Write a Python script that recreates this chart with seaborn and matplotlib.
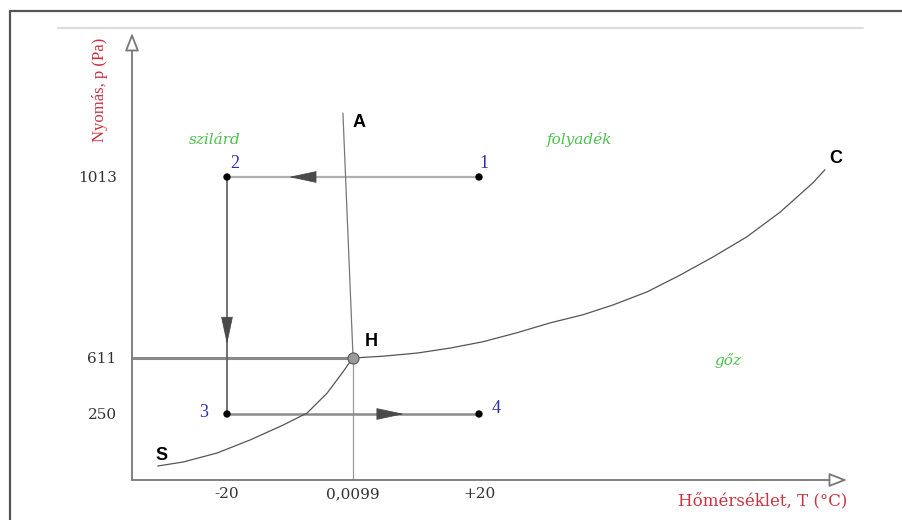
import numpy as np
import pandas as pd
import matplotlib
matplotlib.use("Agg")
import matplotlib.pyplot as plt
from matplotlib.lines import Line2D
import seaborn as sns

# -------------------------------- DATA --------------------------------

# sublimation curve S -> H  (T in °C, p in Pa)
subl_T = [-31.0, -27.0, -21.6, -16.3, -11.1, -7.3, -4.1, -1.6, -0.5, 0.0099]
subl_p = [53, 68, 102, 152, 208, 256, 385, 521, 585, 611]

# vapour pressure curve H -> C
boil_T = [0.0099, 4.8, 10.2, 15.4, 20.6, 26.0, 31.3, 36.5, 41.3, 46.7,
          51.9, 57.1, 62.5, 67.8, 73.0, 74.9]
boil_p = [611, 615, 622, 633, 647, 667, 689, 707, 729, 758,
          795, 835, 880, 935, 1000, 1029]

# melting line H -> A
melt_T = [0.0099, -1.6]
melt_p = [611, 1155]

# process 1 -> 2 -> 3 -> 4
path_labels = ["1", "2", "3", "4"]
path_T = [20, -20, -20, 20]
path_p = [1013, 1013, 250, 250]

# triple point
triple_T = 0.0099
triple_p = 611

x_ticks = [-20, 0.0099, 20]
x_ticklabels = ["-20", "0,0099", "+20"]
y_ticks = [250, 611, 1013]
y_ticklabels = ["250", "611", "1013"]

# schematic (non linear) pressure axis: pressure -> height
p_anchor = [0, 250, 611, 1013, 2000]
h_anchor = [0, 66, 122, 303, 303 + 987 / 2.221]

# ------------------------------ FIGURE --------------------------------

sns.set_theme(style="white")
plt.rcParams["font.family"] = ["Liberation Serif", "DejaVu Serif"]

W, H = 903, 520
fig = plt.figure(figsize=(W / 100, H / 100), dpi=100)
ax = fig.add_axes([132 / W, 40 / H, 715 / W, 447 / H])
ax.set_facecolor("white")

ax.set_yscale("function", functions=(lambda p: np.interp(p, p_anchor, h_anchor),
                                     lambda h: np.interp(h, h_anchor, p_anchor)))
ax.set_xlim(-35.08, 78.41)
ax.set_ylim(0, 1332.8)
for s in ax.spines.values():
    s.set_visible(False)

serif = ["Liberation Serif", "DejaVu Serif"]
wide = ["DejaVu Serif"]
sans = ["Liberation Sans", "DejaVu Sans"]

# helper lines: 611 Pa level and T of triple point
ax.plot([ax.get_xlim()[0], triple_T], [triple_p, triple_p], color="#8a8a8a", lw=2.2, zorder=2)
ax.plot([triple_T, triple_T], [0, triple_p], color="#9a9a9a", lw=0.9, zorder=2)

# process path
seg_style = [("#b0b0b0", 1.6), ("#666666", 1.3), ("#8a8a8a", 1.8)]
for i, (c, lw) in enumerate(seg_style):
    ax.plot(path_T[i:i + 2], path_p[i:i + 2], color=c, lw=lw, zorder=3)

# phase boundaries
curves = pd.concat([
    pd.DataFrame({"T": subl_T, "p": subl_p, "curve": "subl"}),
    pd.DataFrame({"T": boil_T, "p": boil_p, "curve": "boil"}),
    pd.DataFrame({"T": melt_T, "p": melt_p, "curve": "melt"}),
])
sns.lineplot(data=curves, x="T", y="p", hue="curve", sort=False, estimator=None,
             palette={"subl": "#555555", "boil": "#555555", "melt": "#777777"},
             lw=0.9, legend=False, ax=ax, zorder=4)

# points
pts = pd.DataFrame({"T": path_T, "p": path_p, "label": path_labels})
sns.scatterplot(data=pts, x="T", y="p", color="black", s=28, edgecolor="none", ax=ax, zorder=6)
ax.plot(triple_T, triple_p, marker="o", ms=8, mfc="#9a9a9a", mec="#555555", mew=0.8, zorder=6)

# point numbers
num_off = [(5, 13), (8, 13), (-23, 1), (17, 5)]
for (t, p, lab), off in zip(zip(path_T, path_p, path_labels), num_off):
    ax.annotate(lab, (t, p), xytext=off, textcoords="offset pixels", ha="center", va="center",
                color="#2f2fa6", fontsize=13, family=serif, zorder=7)

# curve end letters
ax.annotate("S", (subl_T[0], subl_p[0]), xytext=(4, 11), textcoords="offset pixels",
            ha="center", va="center", fontsize=13, fontweight="bold", family=sans, color="black")
ax.annotate("H", (triple_T, triple_p), xytext=(18, 16), textcoords="offset pixels",
            ha="center", va="center", fontsize=13, fontweight="bold", family=sans, color="black")
ax.annotate("A", (melt_T[-1], melt_p[-1]), xytext=(16, -9), textcoords="offset pixels",
            ha="center", va="center", fontsize=13, fontweight="bold", family=sans, color="black")
ax.annotate("C", (boil_T[-1], boil_p[-1]), xytext=(11, 11), textcoords="offset pixels",
            ha="center", va="center", fontsize=13, fontweight="bold", family=sans, color="black")

# region names
green = "#4fc04f"
ax.text(-21.9, 1095, "szilárd", color=green, style="italic", fontsize=11, family=wide,
        ha="center", va="center")
ax.text(36.0, 1097, "folyadék", color=green, style="italic", fontsize=11, family=wide,
        ha="center", va="center")
ax.text(59.5, 598, "gőz", color=green, style="italic", fontsize=11, family=wide,
        ha="center", va="center")

# direction arrows on the path
def arrow_on(a, b, frac, head_px=21):
    pa = ax.transData.transform(a)
    pb = ax.transData.transform(b)
    tip = pa + (pb - pa) * frac
    d = (pb - pa) / np.hypot(*(pb - pa))
    tail = tip - d * head_px
    inv = ax.transData.inverted()
    ax.annotate("", xy=inv.transform(tip), xytext=inv.transform(tail),
                arrowprops=dict(arrowstyle="-|>,head_length=1.5,head_width=0.32",
                                fc="#4a4a4a", ec="#4a4a4a", lw=0.6, shrinkA=0, shrinkB=0),
                zorder=5)

arrow_fracs = [0.754, 0.706, 0.702]
for i, f in enumerate(arrow_fracs):
    arrow_on((path_T[i], path_p[i]), (path_T[i + 1], path_p[i + 1]), f)

# axes with open arrow heads
ax_arrow = dict(arrowstyle="-|>,head_length=0.9,head_width=0.35", fc="white", ec="#777777",
                lw=1.3, shrinkA=0, shrinkB=0)
ax.annotate("", xy=(1, 0), xytext=(0, 0), xycoords="axes fraction", arrowprops=ax_arrow)
ax.annotate("", xy=(0, 1), xytext=(0, 0), xycoords="axes fraction", arrowprops=ax_arrow)

# ticks
ax.set_xticks(x_ticks)
ax.set_xticklabels(x_ticklabels)
ax.set_yticks(y_ticks)
ax.set_yticklabels(y_ticklabels)
ax.minorticks_off()
ax.tick_params(axis="x", length=0, pad=5, labelsize=11, labelcolor="#333333")
ax.tick_params(axis="y", length=0, pad=11, labelsize=11, labelcolor="#333333")
for lab in ax.get_xticklabels() + ax.get_yticklabels():
    lab.set_family(wide)

# axis titles
red = "#c8343f"
ax.set_ylabel("Nyomás, p (Pa)", color=red, fontsize=12, family=serif)
ax.yaxis.set_label_coords(-0.0336, 0.872)
ax.set_xlabel("Hőmérséklet, T (°C)", color=red, fontsize=12, family=wide)
ax.xaxis.set_label_coords(1.0, -0.047)
ax.xaxis.label.set_ha("right")
ax.xaxis.label.set_va("center")

# page frame and top rule
fig.add_artist(Line2D([10 / W, 1], [1 - 10.5 / H] * 2, transform=fig.transFigure,
                      color="#555555", lw=1.6))
fig.add_artist(Line2D([10 / W] * 2, [0, 1 - 10.5 / H], transform=fig.transFigure,
                      color="#555555", lw=1.6))
fig.add_artist(Line2D([58 / W, 863 / W], [1 - 27.5 / H] * 2, transform=fig.transFigure,
                      color="#dddddd", lw=1.6))

fig.savefig("out.png", dpi=100)
